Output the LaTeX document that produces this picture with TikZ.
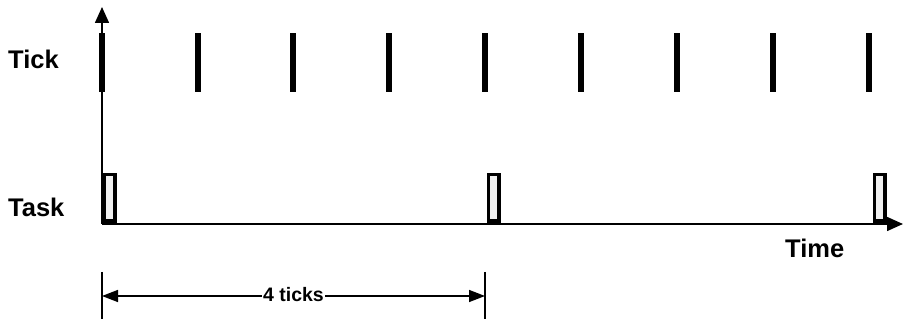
\documentclass[tikz,border=0pt]{standalone}
\usepackage{fontspec}
\setmainfont{Liberation Sans}
\usetikzlibrary{arrows.meta}
\begin{document}
\begin{tikzpicture}[x=1pt,y=-1pt,
  lbl/.style={font=\bfseries\fontsize{25.5}{30}\selectfont, inner sep=0pt, anchor=base west},
  tickbar/.style={fill=black, draw=none, minimum width=6pt, minimum height=59pt, inner sep=0pt, anchor=north},
  taskbox/.style={draw=black, line width=3.5pt, fill=black!6, minimum width=10.5pt, minimum height=46.5pt, inner sep=0pt, anchor=south west},
  axis/.style={line width=1.5pt, -{Triangle[length=16pt,width=14pt]}},
  dimline/.style={line width=1.5pt, {Triangle[length=16pt,width=12pt]}-{Triangle[length=16pt,width=12pt]}},
  extline/.style={line width=1.5pt}
]
\useasboundingbox (0,0) rectangle (903,320);
\coordinate (O) at (102,224);
\coordinate (ytop) at (102,7);
\coordinate (xend) at (903,224);
% labels
\node[lbl] (tick) at (8,69) {Tick};
\node[lbl] (task) at (8,217) {Task};
\node[lbl] (time) at (785,258) {Time};
% tick bars
\foreach \i/\x in {1/102,2/198,3/293,4/389,5/485,6/581,7/677,8/773,9/869}{
  \node[tickbar] (t\i) at (\x,33) {};
}
% task boxes
\node[taskbox] (k1) at (102.75,222.75) {};
\node[taskbox] (k2) at (486.75,222.75) {};
\node[taskbox] (k3) at (872.75,222.75) {};
% axes
\draw[axis] (O) -- (ytop);
\draw[axis] (O) -- (xend);
% dimension
\coordinate (d1t) at (102,272);
\coordinate (d1b) at (102,319);
\coordinate (d2t) at (485,272);
\coordinate (d2b) at (485,319);
\coordinate (a1) at (102,296);
\coordinate (a2) at (485,296);
\draw[extline] (d1t) -- (d1b);
\draw[extline] (d2t) -- (d2b);
\draw[dimline] (a1) -- (a2);
\node[font=\bfseries\fontsize{19.5}{23}\selectfont, fill=white, inner xsep=1pt, inner ysep=2pt] (dl) at (293.5,295) {4 ticks};
\end{tikzpicture}
\end{document}
